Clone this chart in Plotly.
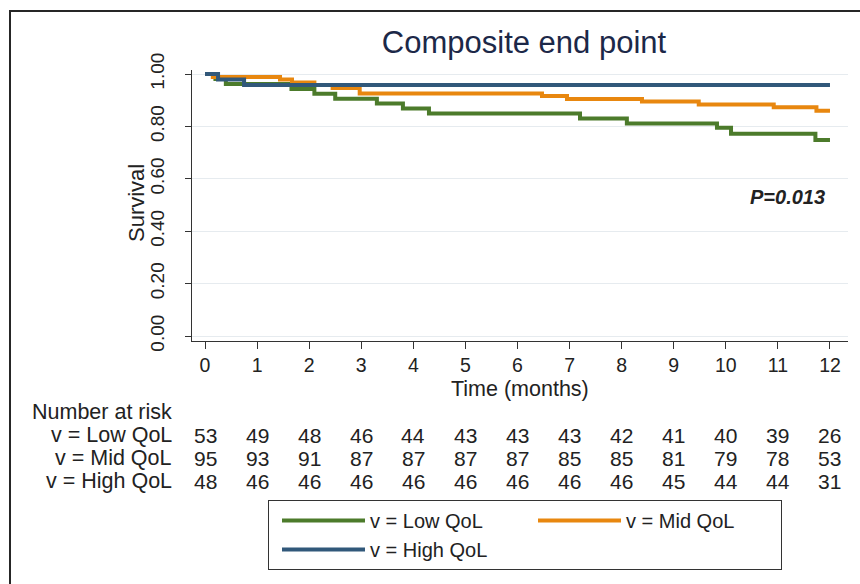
import plotly.graph_objects as go

# ---- data ----
time_low = [0, 0.2, 0.4, 1.66, 2.1, 2.5, 3.3, 3.8, 4.3, 7.2, 8.1, 9.83, 10.1, 11.72, 12.0]
surv_low = [1.0, 0.981, 0.962, 0.943, 0.925, 0.906, 0.887, 0.868, 0.849, 0.830, 0.811, 0.795, 0.772, 0.748, 0.748]

time_mid = [0, 0.15, 1.44, 1.67, 2.1, 2.45, 2.97, 6.47, 6.95, 8.39, 9.48, 10.92, 11.74, 12.0]
surv_mid = [1.0, 0.989, 0.979, 0.968, 0.958, 0.947, 0.926, 0.916, 0.905, 0.895, 0.884, 0.873, 0.860, 0.860]

time_high = [0, 0.25, 0.75, 12.0]
surv_high = [1.0, 0.979, 0.958, 0.958]

group_names = ["v = Low QoL", "v = Mid QoL", "v = High QoL"]
group_colors = ["#4c7b2b", "#e8870f", "#31587a"]

risk_times = list(range(13))
risk_low = [53, 49, 48, 46, 44, 43, 43, 43, 42, 41, 40, 39, 26]
risk_mid = [95, 93, 91, 87, 87, 87, 87, 85, 85, 81, 79, 78, 53]
risk_high = [48, 46, 46, 46, 46, 46, 46, 46, 46, 45, 44, 44, 31]

y_ticks = [0, 0.2, 0.4, 0.6, 0.8, 1.0]
p_text = "P=0.013"
title_text = "Composite end point"
x_title = "Time (months)"
y_title = "Survival"

FONT = "Liberation Sans, Arial, sans-serif"
TXT = "#222222"

# ---- geometry (pixels) ----
W, H = 860, 584
L, R, T, B = 192, 12, 70, 243
PW, PH = W - L - R, H - T - B


def px_x(px):
    return (px - L) / PW


def px_y(py):
    return (H - B - py) / PH


fig = go.Figure()
series = [(time_low, surv_low), (time_mid, surv_mid), (time_high, surv_high)]
for (t, s), name, col in zip(series, group_names, group_colors):
    fig.add_trace(go.Scatter(
        x=t, y=s, mode="lines", name=name,
        line=dict(color=col, width=4, shape="hv"),
        hoverinfo="skip",
    ))

annotations = []
# P-value
annotations.append(dict(
    x=11.19, y=0.53, xref="x", yref="y", text="<b><i>" + p_text + "</i></b>",
    showarrow=False, font=dict(family=FONT, size=20, color=TXT),
    xanchor="center", yanchor="middle",
))
# axis titles
annotations.append(dict(
    x=px_x(136), y=px_y(203), xref="paper", yref="paper", text=y_title,
    textangle=-90, showarrow=False, font=dict(family=FONT, size=22, color=TXT),
    xanchor="center", yanchor="middle",
))
annotations.append(dict(
    x=px_x(520), y=px_y(389), xref="paper", yref="paper", text=x_title,
    showarrow=False, font=dict(family=FONT, size=21.5, color=TXT),
    xanchor="center", yanchor="middle",
))

# number at risk table
TAB = 21.5
annotations.append(dict(
    x=px_x(174), y=px_y(412), xref="paper", yref="paper", text="Number at risk",
    showarrow=False, font=dict(family=FONT, size=TAB, color=TXT),
    xanchor="right", yanchor="middle",
))
row_y = [435, 458, 481]
for name, counts, ry in zip(group_names, [risk_low, risk_mid, risk_high], row_y):
    annotations.append(dict(
        x=px_x(174), y=px_y(ry), xref="paper", yref="paper", text=name,
        showarrow=False, font=dict(family=FONT, size=TAB, color=TXT),
        xanchor="right", yanchor="middle",
    ))
    for t, c in zip(risk_times, counts):
        annotations.append(dict(
            x=t, y=px_y(ry), xref="x", yref="paper", text=str(c),
            showarrow=False, font=dict(family=FONT, size=21, color=TXT),
            xanchor="center", yanchor="middle",
        ))

shapes = [dict(
    type="rect", xref="paper", yref="paper",
    x0=px_x(10), x1=px_x(900), y0=px_y(620), y1=px_y(11),
    line=dict(color="#262626", width=2), fillcolor="rgba(0,0,0,0)", layer="below",
)]

fig.update_layout(
    width=W, height=H,
    template="none",
    paper_bgcolor="white", plot_bgcolor="white",
    margin=dict(l=L, r=R, t=T, b=B, autoexpand=False),
    font=dict(family=FONT, size=19, color=TXT),
    title=dict(
        text=title_text, x=524 / W, y=1 - 42 / H, xref="container", yref="container",
        xanchor="center", yanchor="middle",
        font=dict(family=FONT, size=31, color="#1c2848"),
    ),
    xaxis=dict(
        range=[-0.25, 12.346], tickvals=risk_times, ticks="outside", ticklen=7,
        tickcolor="#333333", showline=True, linecolor="#333333", linewidth=1,
        showgrid=False, zeroline=False,
        tickfont=dict(family=FONT, size=19.5, color=TXT),
    ),
    yaxis=dict(
        range=[-0.0191, 1.0153], tickvals=y_ticks, tickformat=".2f", tickangle=-90,
        ticks="outside", ticklen=6, tickcolor="#333333",
        showline=True, linecolor="#333333", linewidth=1,
        showgrid=True, gridcolor="#e6ebef", gridwidth=1, zeroline=False,
        tickfont=dict(family=FONT, size=19, color=TXT), ticklabelstandoff=13,
    ),
    showlegend=True,
    legend=dict(
        orientation="h", x=px_x(268), y=px_y(500), xanchor="left", yanchor="top",
        bordercolor="#333333", borderwidth=1, bgcolor="white",
        font=dict(family=FONT, size=20, color=TXT),
        indentation=8, itemwidth=83, entrywidth=150, entrywidthmode="pixels",
        traceorder="normal", itemclick=False, itemdoubleclick=False,
    ),
    annotations=annotations,
    shapes=shapes,
)

fig.write_html("out.html")
